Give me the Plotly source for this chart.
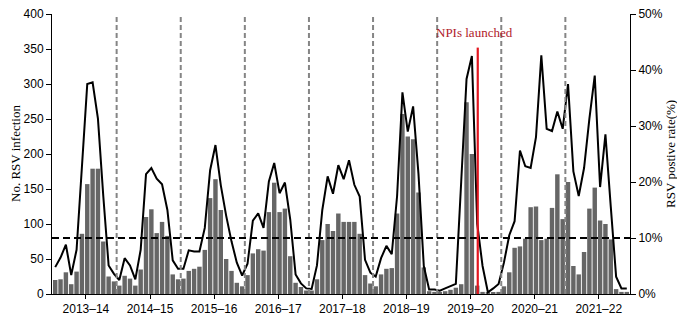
import plotly.graph_objects as go

# ---- data (monthly, July 2013 - June 2022) ----
seasons = ["2013–14", "2014–15", "2015–16", "2016–17", "2017–18",
           "2018–19", "2019–20", "2020–21", "2021–22"]

rsv_cases = [
    20, 21, 31, 14, 32, 86, 157, 179, 179, 75, 25, 18,
    12, 26, 22, 12, 35, 110, 121, 87, 103, 83, 28, 21,
    22, 33, 36, 39, 63, 137, 164, 120, 50, 33, 16, 11,
    27, 58, 64, 62, 117, 159, 117, 122, 54, 16, 10, 5,
    5, 21, 77, 100, 90, 115, 103, 103, 103, 86, 27, 15,
    11, 28, 36, 37, 115, 257, 225, 221, 145, 38, 4, 3,
    3, 4, 6, 9, 14, 274, 200, 12, 3, 2, 2, 3,
    11, 31, 66, 68, 79, 124, 125, 77, 79, 123, 171, 107,
    160, 40, 28, 60, 122, 152, 105, 100, 78, 7, 3, 3,
]

positive_rate = [
    4.8, 6.5, 8.8, 3.4, 7.9, 23.1, 37.5, 37.8, 31.3, 17.5, 5.1, 3.6,
    2.5, 6.4, 5.1, 2.6, 7.9, 21.4, 22.5, 20.6, 19.6, 15.0, 6.0, 4.5,
    4.5, 7.8, 7.6, 7.6, 11.8, 22.1, 26.6, 19.4, 14.0, 9.4, 5.6, 3.3,
    5.4, 13.1, 14.4, 11.8, 20.1, 23.4, 18.0, 19.9, 13.3, 3.5, 1.9, 1.0,
    0.9, 5.1, 15.0, 21.0, 17.9, 23.0, 20.5, 23.9, 19.5, 17.4, 6.1, 3.8,
    3.1, 6.4, 8.6, 7.1, 17.5, 36.0, 29.0, 33.5, 21.5, 5.0, 0.8, 0.8,
    0.6, 1.0, 1.4, 1.8, 20.0, 38.4, 42.5, 12.5, 5.0, 0.3, 1.0, 1.8,
    5.6, 10.5, 13.0, 25.6, 22.8, 22.5, 28.0, 42.6, 29.5, 29.1, 32.6, 29.5,
    37.5, 21.9, 17.5, 22.5, 31.3, 39.0, 19.1, 28.5, 15.6, 3.1, 1.0, 1.0,
]

threshold_cases = 80          # = 10 % on right axis
npi_month = 79.1              # NPIs launched (late Jan 2020)
npi_top = 352

months = list(range(len(rsv_cases)))
season_ticks = [12 * k + 5.75 for k in range(len(seasons))]
season_bounds = [12 * k - 0.5 for k in range(1, len(seasons))]

SANS = "Liberation Sans, Arial, sans-serif"
SERIF = "Liberation Serif, Times New Roman, serif"

fig = go.Figure()
fig.add_trace(go.Bar(x=months, y=rsv_cases, marker=dict(color="#666666", line=dict(width=0)),
                     showlegend=False))
fig.add_trace(go.Scatter(x=months, y=positive_rate, yaxis="y2", mode="lines",
                         line=dict(color="black", width=2), showlegend=False))

shapes = []
for b in season_bounds:
    shapes.append(dict(type="line", xref="x", yref="y", x0=b, x1=b, y0=0, y1=400,
                       line=dict(color="#858585", width=2, dash="5px,3px")))
shapes.append(dict(type="line", xref="paper", yref="y", x0=0, x1=1,
                   y0=threshold_cases, y1=threshold_cases,
                   line=dict(color="black", width=2, dash="7px,4px")))
shapes.append(dict(type="line", xref="x", yref="y", x0=npi_month, x1=npi_month,
                   y0=0, y1=npi_top, line=dict(color="#e3161f", width=2.2)))

annotations = [
    dict(x=npi_month - 0.6, y=373, xref="x", yref="y", text="NPIs launched",
         showarrow=False, font=dict(family=SERIF, size=13, color="#b0202a")),
    dict(x=-0.064, y=0.5, xref="paper", yref="paper", text="No. RSV infection",
         textangle=-90, showarrow=False, xanchor="center", yanchor="middle",
         font=dict(family=SERIF, size=13, color="black")),
    dict(x=1.069, y=0.5, xref="paper", yref="paper", text="RSV postive rate(%)",
         textangle=-90, showarrow=False, xanchor="center", yanchor="middle",
         font=dict(family=SERIF, size=13, color="black")),
]

fig.update_layout(
    width=677, height=315,
    margin=dict(l=44, r=55, t=6, b=29, autoexpand=False),
    plot_bgcolor="white", paper_bgcolor="white",
    bargap=0.17,
    shapes=shapes,
    annotations=annotations,
    xaxis=dict(range=[-0.6, 107.6], tickvals=season_ticks, ticktext=seasons,
               showline=True, linecolor="black", linewidth=1, ticks="outside",
               ticklen=4, tickcolor="black", showgrid=False, zeroline=False, automargin=False,
               ticklabeloverflow="allow",
               tickfont=dict(family=SANS, size=12, color="black")),
    yaxis=dict(range=[0, 400], dtick=50, showline=True, linecolor="black", linewidth=1,
               ticks="outside", ticklen=5, tickcolor="black", showgrid=False, zeroline=False,
               automargin=False, ticklabeloverflow="allow",
               tickfont=dict(family=SANS, size=12, color="black")),
    yaxis2=dict(range=[0, 50], dtick=10, ticksuffix="%", overlaying="y", side="right",
                showline=True, linecolor="black", linewidth=1, ticks="outside", ticklen=5,
                tickcolor="black", showgrid=False, zeroline=False, automargin=False,
                ticklabeloverflow="allow",
                tickfont=dict(family=SANS, size=12, color="black")),
)

fig.write_html("out.html")
